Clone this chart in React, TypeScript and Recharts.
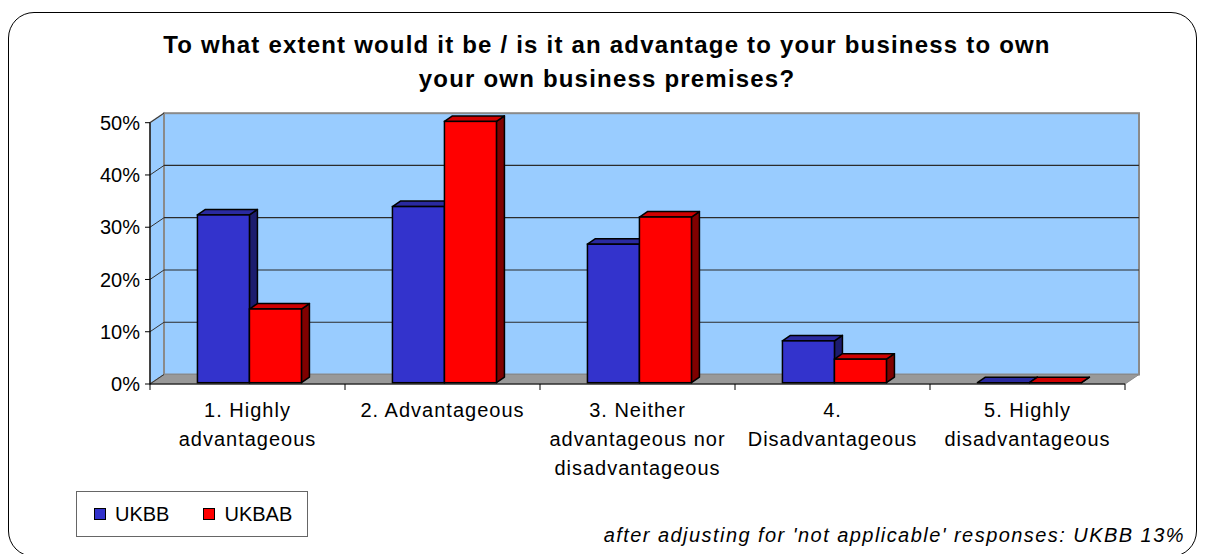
import React from "react";
import {
  BarChart,
  Bar,
  XAxis,
  YAxis,
  CartesianGrid,
  ReferenceArea,
} from "recharts";

// category names and how they wrap under the axis
const categories = [
  "1. Highly advantageous",
  "2. Advantageous",
  "3. Neither advantageous nor disadvantageous",
  "4. Disadvantageous",
  "5. Highly disadvantageous",
];
const categoryLines = [
  ["1. Highly", "advantageous"],
  ["2. Advantageous"],
  ["3. Neither", "advantageous nor", "disadvantageous"],
  ["4.", "Disadvantageous"],
  ["5. Highly", "disadvantageous"],
];

// share of respondents (fraction)
const ukbb = [0.321, 0.337, 0.265, 0.08, 0];
const ukbab = [0.141, 0.5, 0.317, 0.045, 0];

const yTicks = [0, 0.1, 0.2, 0.3, 0.4, 0.5];

const data = categories.map((name, i) => ({
  name,
  UKBB: ukbb[i],
  UKBAB: ukbab[i],
}));

const FONT = "'Liberation Sans', Arial, sans-serif";

// 3d look: wall depth and bar depth
const WALL_DX = 14;
const WALL_DY = 9.5;
const BAR_DX = 8;
const BAR_DY = 5.5;
const BAR_SHIFT_X = 2;
const BAR_SHIFT_Y = -1.3;

const SERIES = [
  { key: "UKBB", front: "#3333CC", top: "#2A2AA0", side: "#1C1C6E" },
  { key: "UKBAB", front: "#FF0000", top: "#D00000", side: "#800000" },
];

const make3DBar = (front: string, top: string, side: string) => (props: any) => {
  const { x, y, width, height } = props;
  if (x == null || y == null) return <g />;
  const sx = x + BAR_SHIFT_X;
  const sy = y + BAR_SHIFT_Y;
  const h = Math.max(0, height);
  const topPts = `${sx},${sy} ${sx + BAR_DX},${sy - BAR_DY} ${sx + width + BAR_DX},${sy - BAR_DY} ${sx + width},${sy}`;
  const sidePts = `${sx + width},${sy} ${sx + width + BAR_DX},${sy - BAR_DY} ${sx + width + BAR_DX},${sy + h - BAR_DY} ${sx + width},${sy + h}`;
  return (
    <g>
      <polygon points={sidePts} fill={side} stroke="#000" strokeWidth={1.5} strokeLinejoin="round" />
      <polygon points={topPts} fill={top} stroke="#000" strokeWidth={1.5} strokeLinejoin="round" />
      {h > 0 && (
        <rect x={sx} y={sy} width={width} height={h} fill={front} stroke="#000" strokeWidth={1.5} />
      )}
    </g>
  );
};

// back wall, side wall and floor from the plot rectangle
const WallShape = (props: any) => {
  const { x, y, width, height } = props;
  if (x == null) return <g />;
  const b = y + height;
  return (
    <g>
      <polygon
        points={`${x},${y} ${x + WALL_DX},${y - WALL_DY} ${x + WALL_DX},${b - WALL_DY} ${x},${b}`}
        fill="#99CCFF"
        stroke="#8a8a8a"
        strokeWidth={1.5}
      />
      <rect
        x={x + WALL_DX}
        y={y - WALL_DY}
        width={width}
        height={height}
        fill="#99CCFF"
        stroke="#8a8a8a"
        strokeWidth={2}
      />
      <polygon
        points={`${x},${b} ${x + WALL_DX},${b - WALL_DY} ${x + width + WALL_DX},${b - WALL_DY} ${x + width},${b}`}
        fill="#999999"
        stroke="#8a8a8a"
        strokeWidth={1}
      />
    </g>
  );
};

const GridLine = (props: any) => {
  const { x1, y1, x2, y2, index } = props;
  const last = yTicks.length - 1;
  return (
    <g key={`g-${index}`}>
      <line x1={x1} y1={y1} x2={x1 + WALL_DX} y2={y1 - WALL_DY} stroke="#333" strokeWidth={1} />
      {index !== 0 && index !== last && (
        <line
          x1={x1 + WALL_DX}
          y1={y1 - WALL_DY}
          x2={x2 + WALL_DX}
          y2={y2 - WALL_DY}
          stroke="#2b2b2b"
          strokeWidth={1.2}
        />
      )}
    </g>
  );
};

const CategoryTick = (props: any) => {
  const { x, y, payload, index } = props;
  const half = payload && payload.offset ? payload.offset : 97.5;
  const lines = categoryLines[index] || [String(payload.value)];
  return (
    <g>
      <line x1={x - half} y1={y} x2={x - half} y2={y + 6} stroke="#000" strokeWidth={1} />
      {index === categories.length - 1 && (
        <line x1={x + half} y1={y} x2={x + half} y2={y + 6} stroke="#000" strokeWidth={1} />
      )}
      {lines.map((l, i) => (
        <text
          key={i}
          x={x}
          y={y + 33 + i * 29}
          textAnchor="middle"
          fill="#000"
          fontSize={20}
          fontFamily={FONT}
          letterSpacing={1}
        >
          {l}
        </text>
      ))}
    </g>
  );
};

export default function App() {
  return (
    <div
      style={{
        position: "absolute",
        left: 0,
        top: 0,
        width: 1205,
        height: 554,
        overflow: "hidden",
        background: "#fff",
        fontFamily: FONT,
      }}
    >
      <div
        style={{
          position: "absolute",
          left: 8,
          top: 12,
          width: 1189,
          height: 545,
          border: "1.5px solid #000",
          borderRadius: 26,
          boxSizing: "border-box",
        }}
      />
      <div
        style={{
          position: "absolute",
          left: 0,
          top: 28,
          width: 1214,
          textAlign: "center",
          fontWeight: "bold",
          fontSize: 24,
          letterSpacing: 1.2,
          lineHeight: "34px",
          color: "#000",
        }}
      >
        To what extent would it be / is it an advantage to your business to own
        <br />
        your own business premises?
      </div>
      <div style={{ position: "absolute", left: 0, top: 0 }}>
        <BarChart
          width={1205}
          height={554}
          data={data}
          margin={{ top: 122.7, right: 80, bottom: 0, left: 0 }}
          barCategoryGap="23.3%"
          barGap={0}
        >
          <ReferenceArea
            y1={0}
            y2={0.5}
            ifOverflow="visible"
            shape={WallShape}
            zIndex={-200}
          />
          <CartesianGrid vertical={false} horizontal={GridLine} />
          <XAxis
            dataKey="name"
            height={170}
            interval={0}
            tickLine={false}
            tickSize={0}
            tickMargin={0}
            axisLine={{ stroke: "#000", strokeWidth: 1.2 }}
            tick={CategoryTick}
          />
          <YAxis
            width={150}
            domain={[0, 0.5]}
            ticks={yTicks}
            tickFormatter={(v: number) => `${Math.round(v * 100)}%`}
            tick={{ fontSize: 20, fill: "#000", fontFamily: FONT }}
            tickSize={5}
            tickMargin={5}
            tickLine={{ stroke: "#000" }}
            axisLine={{ stroke: "#000", strokeWidth: 1.2 }}
          />
          {SERIES.map((s) => (
            <Bar
              key={s.key}
              dataKey={s.key}
              fill={s.front}
              isAnimationActive={false}
              shape={make3DBar(s.front, s.top, s.side)}
            />
          ))}
        </BarChart>
      </div>
      <div
        style={{
          position: "absolute",
          left: 76,
          top: 491,
          width: 232,
          height: 46,
          border: "1px solid #666",
          boxSizing: "border-box",
          display: "flex",
          alignItems: "center",
          fontSize: 20,
          color: "#000",
        }}
      >
        {SERIES.map((s, i) => (
          <div
            key={s.key}
            style={{
              display: "flex",
              alignItems: "center",
              marginLeft: i === 0 ? 17 : 34,
            }}
          >
            <span
              style={{
                display: "inline-block",
                width: 10,
                height: 10,
                background: s.front,
                border: "1.5px solid #000",
                marginRight: 9,
              }}
            />
            <span>{s.key}</span>
          </div>
        ))}
      </div>
      <div
        style={{
          position: "absolute",
          right: 20,
          top: 523,
          fontStyle: "italic",
          fontSize: 20,
          letterSpacing: 1.45,
          lineHeight: "24px",
          color: "#000",
          whiteSpace: "nowrap",
        }}
      >
        after adjusting for 'not applicable' responses: UKBB 13%
      </div>
    </div>
  );
}
